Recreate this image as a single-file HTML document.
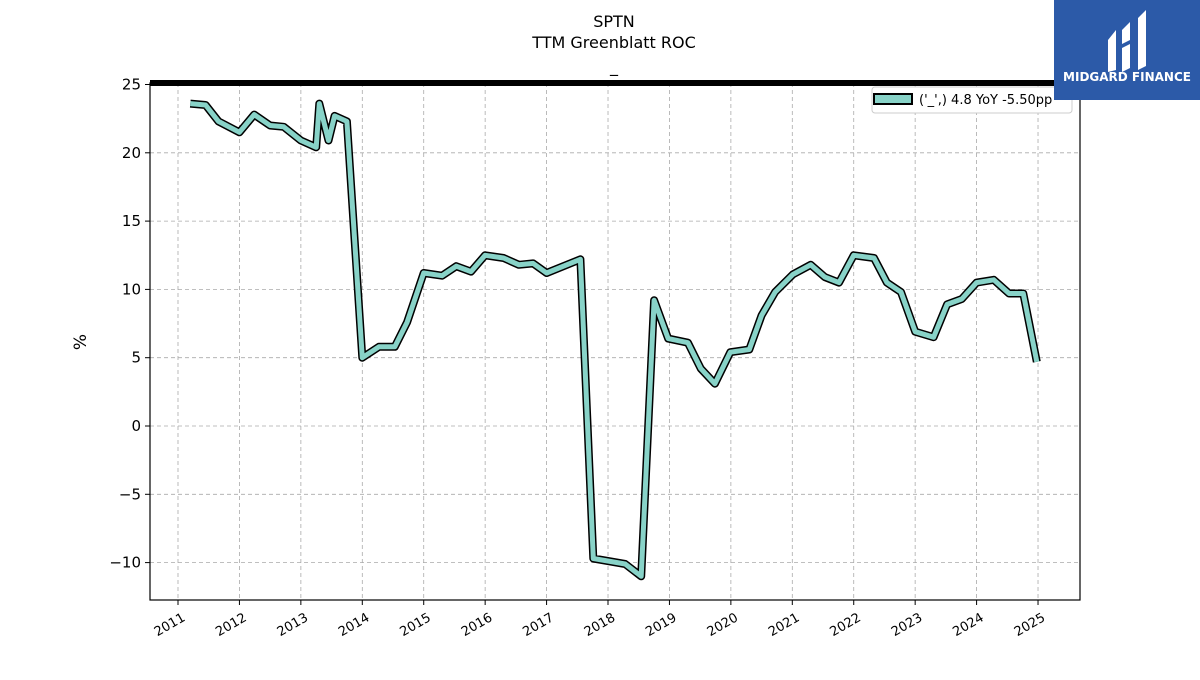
<!DOCTYPE html>
<html><head><meta charset="utf-8"><style>
body{margin:0;background:#fff;font-family:"Liberation Sans","DejaVu Sans",sans-serif}
svg text{font-family:"DejaVu Sans","Liberation Sans",sans-serif}
</style></head><body>
<svg id="chart" width="1200" height="675" xmlns="http://www.w3.org/2000/svg">
<rect width="1200" height="675" fill="#fff"/>
<text x="614" y="27" font-size="16" text-anchor="middle">SPTN</text>
<text x="614" y="48" font-size="16" text-anchor="middle">TTM Greenblatt ROC</text>
<text x="614" y="72" font-size="16" text-anchor="middle">_</text>
<g id="grid"></g>
<g id="marks"></g>
<rect x="150" y="83" width="930" height="517" fill="none" stroke="#000" stroke-width="1.2"/>
<line x1="150" x2="1080" y1="83" y2="83" stroke="#000" stroke-width="6"/>
<g id="ticks"></g>
<text x="86" y="342" font-size="17" text-anchor="middle" transform="rotate(-90 86 342)">%</text>
<g>
<rect x="872" y="87" width="200" height="26" rx="3" fill="#fff" stroke="#ccc"/>
<rect x="874" y="94" width="38" height="10" fill="#88d3c8" stroke="#000" stroke-width="2"/>
<text x="919" y="104" font-size="13">('_',) 4.8 YoY -5.50pp</text>
</g>
<g>
<rect x="1054" y="0" width="146" height="100" fill="#2c5aa8"/>
<path d="M1108 40 L1116 30 L1116 70 L1108 72 Z M1122 30 L1130 22 L1130 40 L1122 44 Z M1122 48 L1130 44 L1130 68 L1122 72 Z M1138 18 L1146 10 L1146 66 L1138 70 Z" fill="#fff"/>
<text x="1127" y="81" font-size="12" font-weight="bold" fill="#fff" text-anchor="middle">MIDGARD FINANCE</text>
</g>
</svg>
<script>
const dates=[2011.2,2011.45,2011.66,2012.0,2012.24,2012.5,2012.72,2013.0,2013.25,2013.3,2013.45,2013.55,2013.75,2014.0,2014.27,2014.53,2014.73,2015.0,2015.3,2015.53,2015.77,2016.0,2016.3,2016.55,2016.78,2017.0,2017.55,2017.76,2018.28,2018.54,2018.75,2018.98,2019.3,2019.51,2019.74,2019.99,2020.3,2020.5,2020.72,2021.01,2021.3,2021.53,2021.76,2022.0,2022.33,2022.54,2022.77,2023.0,2023.3,2023.52,2023.76,2024.0,2024.28,2024.53,2024.76,2024.98];
const values=[23.6,23.5,22.3,21.5,22.8,22.0,21.9,20.9,20.4,23.6,20.9,22.7,22.3,5.0,5.8,5.8,7.6,11.2,11.0,11.7,11.3,12.5,12.3,11.8,11.9,11.2,12.2,-9.7,-10.1,-11.0,9.2,6.4,6.1,4.2,3.1,5.4,5.6,8.1,9.8,11.1,11.8,10.9,10.5,12.5,12.3,10.5,9.8,6.9,6.5,8.9,9.3,10.5,10.7,9.7,9.7,4.7];
const yTicks=[25,20,15,10,5,0,-5,-10];
const yTickLabels=["25","20","15","10","5","0","\u22125","\u221210"];
const xTicks=[2011,2012,2013,2014,2015,2016,2017,2018,2019,2020,2021,2022,2023,2024,2025];
const NS="http://www.w3.org/2000/svg";
const X=v=>178+(v-2011)*61.43;
const Y=v=>426-v*13.66;
function mk(t,a,p){const e=document.createElementNS(NS,t);for(const k in a)e.setAttribute(k,a[k]);p.appendChild(e);return e;}
const grid=document.getElementById('grid'),ticks=document.getElementById('ticks'),marks=document.getElementById('marks');
yTicks.forEach((v,i)=>{
 const g=mk('line',{x1:150,x2:1080,y1:Y(v),y2:Y(v),stroke:'#aaa','stroke-dasharray':'4,3','stroke-width':0.8},grid);
 
 
 mk('line',{x1:145,x2:150,y1:Y(v),y2:Y(v),stroke:'#000'},ticks);
 const t=mk('text',{x:141,y:Y(v)+5,'font-size':15,'text-anchor':'end'},ticks);
 
 
 t.textContent=yTickLabels[i];
});
xTicks.forEach(v=>{
 const g=mk('line',{x1:X(v),x2:X(v),y1:83,y2:600,stroke:'#aaa','stroke-dasharray':'4,3','stroke-width':0.8},grid);
 
 
 mk('line',{x1:X(v),x2:X(v),y1:600,y2:605,stroke:'#000'},ticks);
 const t=mk('text',{x:X(v)+8,y:620,'font-size':13,'text-anchor':'end',transform:`rotate(-30 ${X(v)+8} 620)`},ticks);
 
 
 t.textContent=String(v);
});
const d=dates.map((x,i)=>(i?'L':'M')+X(x).toFixed(1)+' '+Y(values[i]).toFixed(1)).join(' ');
const o=mk('path',{d:d,fill:'none',stroke:'#000','stroke-width':8,'stroke-linejoin':'round'},marks);


const l=mk('path',{d:d,fill:'none',stroke:'#88d3c8','stroke-width':5,'stroke-linejoin':'round'},marks);


</script>
</body></html>
